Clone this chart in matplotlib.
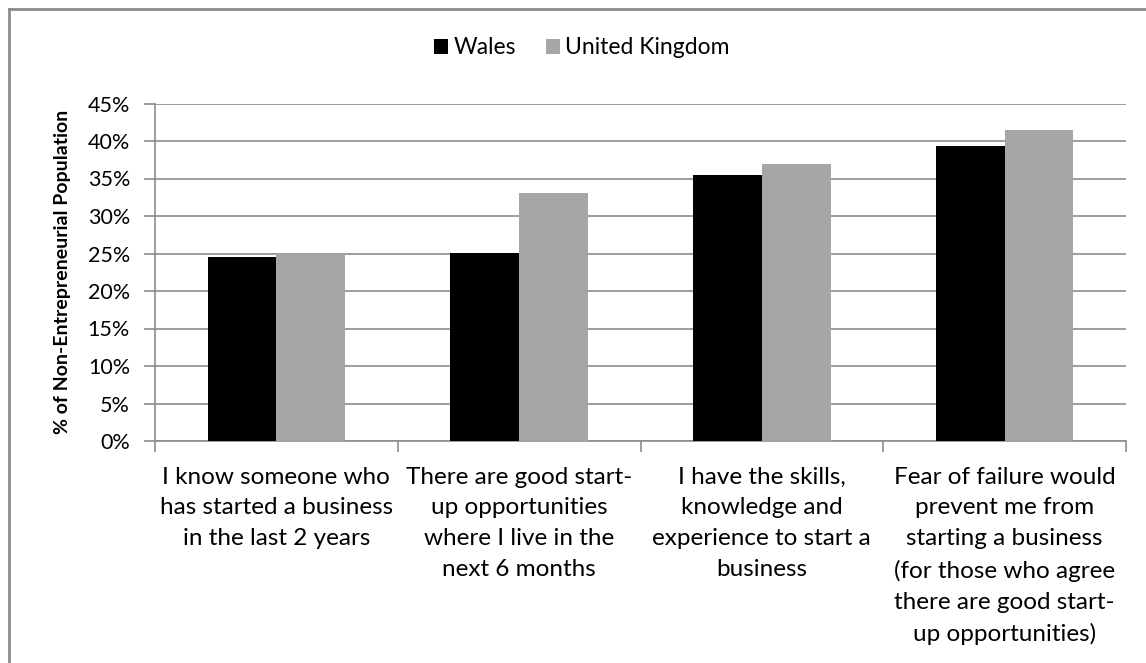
import numpy as np
import matplotlib.pyplot as plt
from matplotlib.lines import Line2D
from matplotlib.ticker import MultipleLocator, FuncFormatter

plt.rcParams['font.family'] = ['Lato', 'DejaVu Sans']

categories = [
    "I know someone who\nhas started a business\nin the last 2 years",
    "There are good start-\nup opportunities\nwhere I live in the\nnext 6 months",
    "I have the skills,\nknowledge and\nexperience to start a\nbusiness",
    "Fear of failure would\nprevent me from\nstarting a business\n(for those who agree\nthere are good start-\nup opportunities)",
]
wales = [24.6, 25.1, 35.5, 39.3]
uk = [25.0, 33.1, 37.0, 41.5]

W, H = 1146, 663
fig = plt.figure(figsize=(W / 100, H / 100), dpi=100)
ax = fig.add_axes([155 / W, 1 - 441 / H, (1126 - 155) / W, (441 - 103.5) / H])

x = np.arange(len(categories))
w = 0.283
ax.bar(x - w / 2, wales, w, color='black', label='Wales', zorder=3)
ax.bar(x + w / 2, uk, w, color='#a6a6a6', label='United Kingdom', zorder=3)

ax.set_xlim(-0.5, len(categories) - 0.5)
ax.set_ylim(0, 45)
ax.yaxis.set_major_locator(MultipleLocator(5))
ax.yaxis.set_major_formatter(FuncFormatter(lambda v, p: f"{v:.0f}%"))
ax.grid(axis='y', color='#8c8c8c', linewidth=1.2, zorder=0)

for s in ['top', 'right']:
    ax.spines[s].set_visible(False)
for s in ['left', 'bottom']:
    ax.spines[s].set_color('#8c8c8c')
    ax.spines[s].set_linewidth(1.2)

# category boundaries carry the x ticks; labels sit at centres
ax.set_xticks(np.arange(-0.5, len(categories)))
ax.set_xticklabels([])
ax.tick_params(axis='x', length=8, color='#8c8c8c', width=1.2)
ax.tick_params(axis='y', length=8, color='#8c8c8c', width=1.2, labelsize=15.5, pad=10)
for i, lab in enumerate(categories):
    ax.text(i, -3.4, lab, ha='center', va='top', fontsize=17.5,
            linespacing=1.58)

ax.set_ylabel('% of Non-Entrepreneurial Population', fontsize=14,
              fontweight='bold', labelpad=12)

fig.legend(loc='center', bbox_to_anchor=(582 / W, 1 - 48 / H), ncol=2,
           frameon=False, fontsize=16.5, handlelength=0.6, handleheight=0.6,
           handletextpad=0.25, columnspacing=1.3)

# outer frame: only the left and top edges fall inside the image
fig.add_artist(Line2D([9 / W, 9 / W], [0, 1 - 9 / H], transform=fig.transFigure,
                      color='#8c8c8c', linewidth=2))
fig.add_artist(Line2D([9 / W, 1], [1 - 9 / H, 1 - 9 / H], transform=fig.transFigure,
                      color='#8c8c8c', linewidth=2))

fig.savefig('out.png', dpi=100)
